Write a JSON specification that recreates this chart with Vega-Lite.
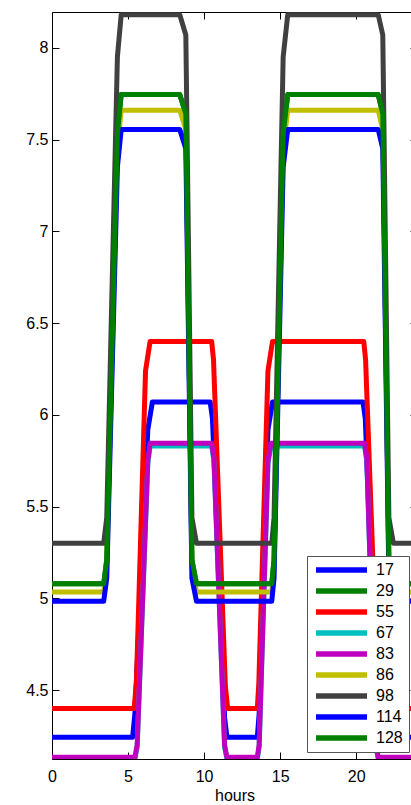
{
"$schema": "https://vega.github.io/schema/vega-lite/v6.json",
"width": 365, "height": 747,
"autosize": {"type": "none"},
"padding": {"left": 52, "top": 12, "right": -6, "bottom": 46},
"background": "white",
"config": {
  "view": {"stroke": "black", "strokeWidth": 1},
  "font": "Liberation Sans",
  "axis": {"labelFont": "Liberation Sans", "labelFontSize": 16, "labelColor": "black", "tickColor": "black", "tickWidth": 1, "titleFont": "Liberation Sans", "titleFontSize": 16, "titleFontWeight": "normal", "titleColor": "black", "grid": false, "domain": false, "labelFlush": false}
},
"data": {"values": [
{"s":"17","h":0,"v":4.244},{"s":"17","h":5.3,"v":4.244},{"s":"17","h":5.45,"v":4.37},{"s":"17","h":6.3,"v":5.92},{"s":"17","h":6.6,"v":6.07},{"s":"17","h":10.4,"v":6.07},{"s":"17","h":10.55,"v":5.98},{"s":"17","h":11.35,"v":4.35},{"s":"17","h":11.5,"v":4.244},{"s":"17","h":13.5,"v":4.244},{"s":"17","h":13.62,"v":4.37},{"s":"17","h":14.2,"v":5.92},{"s":"17","h":14.5,"v":6.07},{"s":"17","h":20.45,"v":6.07},{"s":"17","h":20.6,"v":5.98},{"s":"17","h":21.35,"v":4.35},{"s":"17","h":21.5,"v":4.244},{"s":"17","h":24,"v":4.244},
{"s":"29","h":0,"v":5.08},{"s":"29","h":3.4,"v":5.08},{"s":"29","h":3.6,"v":5.21},{"s":"29","h":4.3,"v":7.53},{"s":"29","h":4.55,"v":7.745},{"s":"29","h":8.4,"v":7.745},{"s":"29","h":8.8,"v":7.64},{"s":"29","h":9.2,"v":5.21},{"s":"29","h":9.5,"v":5.08},{"s":"29","h":14.45,"v":5.08},{"s":"29","h":14.6,"v":5.21},{"s":"29","h":15.2,"v":7.53},{"s":"29","h":15.5,"v":7.745},{"s":"29","h":21.45,"v":7.745},{"s":"29","h":21.75,"v":7.64},{"s":"29","h":22.15,"v":5.21},{"s":"29","h":22.45,"v":5.08},{"s":"29","h":24,"v":5.08},
{"s":"55","h":0,"v":4.4},{"s":"55","h":5.4,"v":4.4},{"s":"55","h":5.55,"v":4.54},{"s":"55","h":6.15,"v":6.24},{"s":"55","h":6.45,"v":6.4},{"s":"55","h":10.5,"v":6.4},{"s":"55","h":10.62,"v":6.3},{"s":"55","h":11.4,"v":4.52},{"s":"55","h":11.55,"v":4.4},{"s":"55","h":13.5,"v":4.4},{"s":"55","h":13.6,"v":4.54},{"s":"55","h":14.2,"v":6.24},{"s":"55","h":14.5,"v":6.4},{"s":"55","h":20.5,"v":6.4},{"s":"55","h":20.62,"v":6.3},{"s":"55","h":21.4,"v":4.52},{"s":"55","h":21.55,"v":4.4},{"s":"55","h":24,"v":4.4},
{"s":"67","h":0,"v":4.125},{"s":"67","h":5.45,"v":4.125},{"s":"67","h":5.6,"v":4.19},{"s":"67","h":6.3,"v":5.735},{"s":"67","h":6.45,"v":5.83},{"s":"67","h":10.5,"v":5.83},{"s":"67","h":10.65,"v":5.745},{"s":"67","h":11.35,"v":4.19},{"s":"67","h":11.5,"v":4.125},{"s":"67","h":13.5,"v":4.125},{"s":"67","h":13.62,"v":4.19},{"s":"67","h":14.2,"v":5.735},{"s":"67","h":14.4,"v":5.83},{"s":"67","h":20.55,"v":5.83},{"s":"67","h":20.7,"v":5.745},{"s":"67","h":21.3,"v":4.19},{"s":"67","h":21.45,"v":4.125},{"s":"67","h":24,"v":4.125},
{"s":"83","h":0,"v":4.135},{"s":"83","h":5.45,"v":4.135},{"s":"83","h":5.6,"v":4.2},{"s":"83","h":6.3,"v":5.75},{"s":"83","h":6.45,"v":5.845},{"s":"83","h":10.5,"v":5.845},{"s":"83","h":10.65,"v":5.76},{"s":"83","h":11.35,"v":4.2},{"s":"83","h":11.5,"v":4.135},{"s":"83","h":13.5,"v":4.135},{"s":"83","h":13.62,"v":4.2},{"s":"83","h":14.2,"v":5.75},{"s":"83","h":14.4,"v":5.845},{"s":"83","h":20.55,"v":5.845},{"s":"83","h":20.7,"v":5.76},{"s":"83","h":21.3,"v":4.2},{"s":"83","h":21.45,"v":4.135},{"s":"83","h":24,"v":4.135},
{"s":"86","h":0,"v":5.035},{"s":"86","h":3.4,"v":5.035},{"s":"86","h":3.6,"v":5.17},{"s":"86","h":4.3,"v":7.45},{"s":"86","h":4.55,"v":7.66},{"s":"86","h":8.4,"v":7.66},{"s":"86","h":8.8,"v":7.555},{"s":"86","h":9.2,"v":5.17},{"s":"86","h":9.5,"v":5.035},{"s":"86","h":14.45,"v":5.035},{"s":"86","h":14.6,"v":5.17},{"s":"86","h":15.2,"v":7.45},{"s":"86","h":15.5,"v":7.66},{"s":"86","h":21.45,"v":7.66},{"s":"86","h":21.75,"v":7.555},{"s":"86","h":22.15,"v":5.17},{"s":"86","h":22.45,"v":5.035},{"s":"86","h":24,"v":5.035},
{"s":"98","h":0,"v":5.3},{"s":"98","h":3.4,"v":5.3},{"s":"98","h":3.6,"v":5.44},{"s":"98","h":4.3,"v":7.95},{"s":"98","h":4.55,"v":8.18},{"s":"98","h":8.4,"v":8.18},{"s":"98","h":8.8,"v":8.07},{"s":"98","h":9.2,"v":5.44},{"s":"98","h":9.5,"v":5.3},{"s":"98","h":14.45,"v":5.3},{"s":"98","h":14.6,"v":5.44},{"s":"98","h":15.2,"v":7.95},{"s":"98","h":15.5,"v":8.18},{"s":"98","h":21.45,"v":8.18},{"s":"98","h":21.75,"v":8.07},{"s":"98","h":22.15,"v":5.44},{"s":"98","h":22.45,"v":5.3},{"s":"98","h":24,"v":5.3},
{"s":"114","h":0,"v":4.985},{"s":"114","h":3.4,"v":4.985},{"s":"114","h":3.6,"v":5.11},{"s":"114","h":4.3,"v":7.35},{"s":"114","h":4.55,"v":7.555},{"s":"114","h":8.4,"v":7.555},{"s":"114","h":8.8,"v":7.45},{"s":"114","h":9.2,"v":5.11},{"s":"114","h":9.5,"v":4.985},{"s":"114","h":14.45,"v":4.985},{"s":"114","h":14.6,"v":5.11},{"s":"114","h":15.2,"v":7.35},{"s":"114","h":15.5,"v":7.555},{"s":"114","h":21.45,"v":7.555},{"s":"114","h":21.75,"v":7.45},{"s":"114","h":22.15,"v":5.11},{"s":"114","h":22.45,"v":4.985},{"s":"114","h":24,"v":4.985},
{"s":"128","h":0,"v":5.08},{"s":"128","h":3.4,"v":5.08},{"s":"128","h":3.6,"v":5.21},{"s":"128","h":4.3,"v":7.53},{"s":"128","h":4.55,"v":7.745},{"s":"128","h":8.4,"v":7.745},{"s":"128","h":8.8,"v":7.64},{"s":"128","h":9.2,"v":5.21},{"s":"128","h":9.5,"v":5.08},{"s":"128","h":14.45,"v":5.08},{"s":"128","h":14.6,"v":5.21},{"s":"128","h":15.2,"v":7.53},{"s":"128","h":15.5,"v":7.745},{"s":"128","h":21.45,"v":7.745},{"s":"128","h":21.75,"v":7.64},{"s":"128","h":22.15,"v":5.21},{"s":"128","h":22.45,"v":5.08},{"s":"128","h":24,"v":5.08}
]},
"layer": [
  {
    "mark": {"type": "line", "strokeWidth": 5, "clip": true, "strokeJoin": "round", "strokeCap": "butt"},
    "encoding": {
      "x": {"field": "h", "type": "quantitative", "scale": {"domain": [0, 24], "nice": false, "zero": false},
            "axis": {"orient": "bottom", "values": [0, 5, 10, 15, 20], "tickSize": -7, "labelPadding": 16, "title": "hours", "titlePadding": 3}},
      "y": {"field": "v", "type": "quantitative", "scale": {"domain": [4.125, 8.195], "nice": false, "zero": false},
            "axis": {"orient": "left", "values": [4.5, 5, 5.5, 6, 6.5, 7, 7.5, 8], "format": "~g", "tickSize": -7, "labelPadding": 11, "title": null}},
      "color": {"field": "s", "type": "nominal",
        "scale": {"domain": ["17","29","55","67","83","86","98","114","128"],
                  "range": ["#0000ff","#008000","#ff0000","#00bfbf","#bf00bf","#bfbf00","#404040","#0000ff","#008000"]},
        "legend": {"orient": "none", "legendX": 255, "legendY": 544, "title": null,
                   "symbolType": "stroke", "symbolSize": 2601, "symbolStrokeWidth": 5.5, "clipHeight": 16,
                   "labelFont": "Liberation Sans", "labelFontSize": 16, "labelColor": "black", "labelOffset": 6,
                   "rowPadding": 5, "padding": 6, "fillColor": "white", "strokeColor": "#555555"}}
    }
  },
  {
    "mark": {"type": "point", "opacity": 0},
    "encoding": {
      "x": {"field": "h", "type": "quantitative", "axis": {"orient": "top", "values": [0, 5, 10, 15, 20], "tickSize": -7, "labels": false, "title": null}},
      "y": {"field": "v", "type": "quantitative", "axis": {"orient": "right", "values": [4.5, 5, 5.5, 6, 6.5, 7, 7.5, 8], "tickSize": -7, "labels": false, "title": null}}
    }
  }
],
"resolve": {"axis": {"x": "independent", "y": "independent"}}
}
